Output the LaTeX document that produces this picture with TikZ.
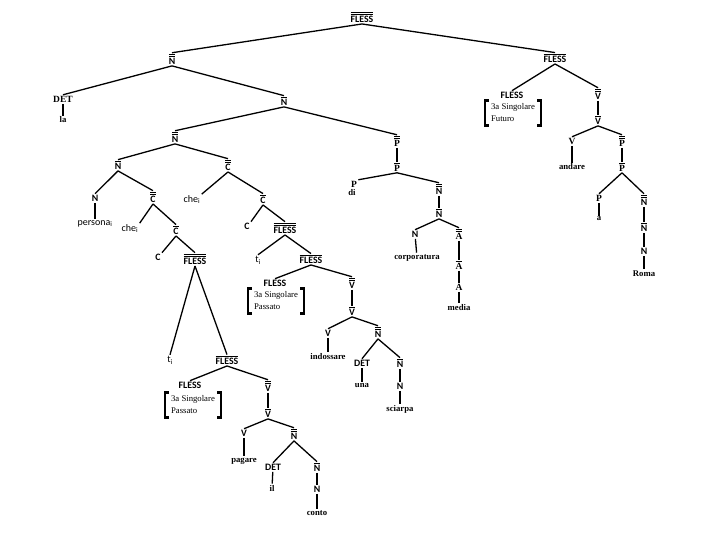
\documentclass[tikz,border=0pt]{standalone}
\usepackage{fontspec}
\setmainfont{Liberation Serif}
\newfontfamily\calfont{Carlito}
\usetikzlibrary{positioning}

\newcommand{\barI}[1]{\vbox{\hrule height .8pt\kern1.3pt\hbox{#1}}}
\newcommand{\barII}[1]{\vbox{\hrule height .8pt\kern1.1pt\hrule height .8pt\kern1.3pt\hbox{#1}}}
\newcommand{\drawbrk}[1]{%
  \draw[brk] ([xshift=4pt]#1.north west) -| (#1.south west) -- ++(4pt,0);
  \draw[brk] ([xshift=-4pt]#1.north east) -| (#1.south east) -- ++(-4pt,0);}

\begin{document}
\begin{tikzpicture}[x=1pt,y=-1pt,
cat/.style={font=\calfont\bfseries\fontsize{9.8}{11}\selectfont, inner sep=1.2pt, anchor=base, yshift=-3.5pt},
catr/.style={font=\bfseries\fontsize{9.5}{11}\selectfont, inner sep=1.2pt, anchor=base, yshift=-3.4pt},
word/.style={font=\bfseries\fontsize{8.7}{10}\selectfont, inner sep=1.2pt, anchor=base, yshift=-3pt},
trace/.style={font=\calfont\fontsize{10}{11}\selectfont, inner sep=1.2pt, anchor=base, yshift=-3.5pt},
feat/.style={font=\fontsize{8.7}{12}\selectfont, align=left, inner xsep=6pt, inner ysep=3pt},
edge/.style={line width=1.3pt},
brk/.style={line width=2.6pt}
]
\useasboundingbox (0,0) rectangle (720,540);

\node[cat] (r) at (362,19) {\barII{FLESS}};
\node[cat] (n1) at (172,61) {\barII{N}};
\node[catr] (det1) at (63,99) {DET};
\node[word] (la) at (63,120) {la};
\node[cat] (n2) at (284,102) {\barI{N}};
\node[cat] (n3) at (175,139) {\barII{N}};
\node[cat] (n4) at (118,166) {\barI{N}};
\node[cat] (c1) at (228,167) {\barII{C}};
\node[cat] (nn) at (95,198) {N};
\node[trace] (pers) at (95,222) {persona\textsubscript{i}};
\node[cat] (c2) at (153,199) {\barII{C}};
\node[trace] (che1) at (130,228) {che\textsubscript{i}};
\node[cat] (c3) at (176,231) {\barI{C}};
\node[cat] (c4) at (158,257) {C};
\node[cat] (f1) at (195,261) {\barII{FLESS}};
\node[trace] (t2) at (170,359) {t\textsubscript{i}};
\node[cat] (f5) at (227,361) {\barI{FLESS}};
\node[cat] (f6) at (190,385) {FLESS};
\node[feat] (ft2) at (193,405) {3a Singolare\\Passato};
\node[cat] (v4) at (268,388) {\barII{V}};
\node[cat] (v5) at (268,414) {\barI{V}};
\node[cat] (v6) at (244,433) {V};
\node[word] (pag) at (244,459) {pagare};
\node[cat] (n8) at (294,436) {\barII{N}};
\node[cat] (det3) at (273,467) {DET};
\node[word] (il) at (272,488) {il};
\node[cat] (n9) at (317,468) {\barI{N}};
\node[cat] (n10) at (317,489) {N};
\node[word] (conto) at (317,512) {conto};

\node[trace] (che2) at (192,199) {che\textsubscript{i}};
\node[cat] (c5) at (263,200) {\barI{C}};
\node[cat] (c6) at (247,226) {C};
\node[cat] (f2) at (285,230) {\barII{FLESS}};
\node[trace] (t1) at (258,259) {t\textsubscript{i}};
\node[cat] (f3) at (311,260) {\barI{FLESS}};
\node[cat] (f4) at (275,283) {FLESS};
\node[feat] (ft1) at (276,301) {3a Singolare\\Passato};
\node[cat] (v1) at (352,285) {\barII{V}};
\node[cat] (v2) at (352,312) {\barI{V}};
\node[cat] (v3) at (328,333) {V};
\node[word] (indo) at (328,356) {indossare};
\node[cat] (n5) at (378,334) {\barII{N}};
\node[cat] (det2) at (362,363) {DET};
\node[word] (una) at (362,384) {una};
\node[cat] (n6) at (400,364) {\barI{N}};
\node[cat] (n7) at (400,386) {N};
\node[word] (sci) at (400,408) {sciarpa};

\node[catr] (p1) at (397,143) {\barII{P}};
\node[catr] (p2) at (397,168) {\barI{P}};
\node[catr] (p3) at (354,184) {P};
\node[word] (di) at (352,193) {di};
\node[cat] (n11) at (439,191) {\barII{N}};
\node[cat] (n12) at (439,214) {\barI{N}};
\node[cat] (n13) at (415,234) {N};
\node[word] (corp) at (417,256) {corporatura};
\node[catr] (a1) at (459,236) {\barII{A}};
\node[catr] (a2) at (459,266) {\barI{A}};
\node[catr] (a3) at (459,287) {A};
\node[word] (media) at (459,307) {media};

\node[cat] (f7) at (555,59) {\barI{FLESS}};
\node[cat] (f8) at (512,95) {FLESS};
\node[feat] (ft3) at (513,113) {3a Singolare\\Futuro};
\node[cat] (v7) at (598,96) {\barII{V}};
\node[cat] (v8) at (598,121) {\barI{V}};
\node[catr] (v9) at (572,141) {V};
\node[word] (andare) at (572,167) {andare};
\node[catr] (p4) at (622,143) {\barII{P}};
\node[catr] (p5) at (622,168) {\barI{P}};
\node[catr] (p6) at (599,198) {P};
\node[word] (a) at (599,218) {a};
\node[cat] (n14) at (644,202) {\barII{N}};
\node[cat] (n15) at (644,228) {\barI{N}};
\node[cat] (n16) at (644,251) {N};
\node[word] (roma) at (644,273) {Roma};

\draw[edge] (r.south) -- (n1.north) (r.south) -- (f7.north);
\draw[edge] (n1.south) -- (det1.north) (n1.south) -- (n2.north);
\draw[edge] (det1) -- (la);
\draw[edge] (n2.south) -- (n3.north) (n2.south) -- (p1.north);
\draw[edge] (n3.south) -- (n4.north) (n3.south) -- (c1.north);
\draw[edge] (n4.south) -- (nn.north) (n4.south) -- (c2.north);
\draw[edge] (nn) -- (pers);
\draw[edge] (c2.south) -- (che1.north east) (c2.south) -- (c3.north);
\draw[edge] (c3.south) -- (c4.north east) (c3.south) -- (f1.north);
\draw[edge] (f1.south) -- (t2.north) (f1.south) -- (f5.north);
\draw[edge] (f5.south) -- (f6.north) (f5.south) -- (v4.north);
\draw[edge] (v4) -- (v5);
\draw[edge] (v5.south) -- (v6.north) (v5.south) -- (n8.north);
\draw[edge] (v6) -- (pag);
\draw[edge] (n8.south) -- (det3.north) (n8.south) -- (n9.north);
\draw[edge] (det3) -- (il);
\draw[edge] (n9) -- (n10) (n10) -- (conto);

\draw[edge] (c1.south) -- (che2.north east) (c1.south) -- (c5.north);
\draw[edge] (c5.south) -- (c6.north east) (c5.south) -- (f2.north);
\draw[edge] (f2.south) -- (t1.north) (f2.south) -- (f3.north);
\draw[edge] (f3.south) -- (f4.north) (f3.south) -- (v1.north);
\draw[edge] (v1) -- (v2);
\draw[edge] (v2.south) -- (v3.north) (v2.south) -- (n5.north);
\draw[edge] (v3) -- (indo);
\draw[edge] (n5.south) -- (det2.north) (n5.south) -- (n6.north);
\draw[edge] (det2) -- (una);
\draw[edge] (n6) -- (n7) (n7) -- (sci);

\draw[edge] (p1) -- (p2);
\draw[edge] (p2.south) -- (p3.north east) (p2.south) -- (n11.north);
\draw[edge] (n11) -- (n12);
\draw[edge] (n12.south) -- (n13.north) (n12.south) -- (a1.north);
\draw[edge] (n13) -- (corp);
\draw[edge] (a1) -- (a2) (a2) -- (a3) (a3) -- (media);

\draw[edge] (f7.south) -- (f8.north) (f7.south) -- (v7.north);
\draw[edge] (v7) -- (v8);
\draw[edge] (v8.south) -- (v9.north) (v8.south) -- (p4.north);
\draw[edge] (v9) -- (andare);
\draw[edge] (p4) -- (p5);
\draw[edge] (p5.south) -- (p6.north) (p5.south) -- (n14.north);
\draw[edge] (p6) -- (a);
\draw[edge] (n14) -- (n15) (n15) -- (n16) (n16) -- (roma);

\drawbrk{ft1}
\drawbrk{ft2}
\drawbrk{ft3}
\end{tikzpicture}
\end{document}
